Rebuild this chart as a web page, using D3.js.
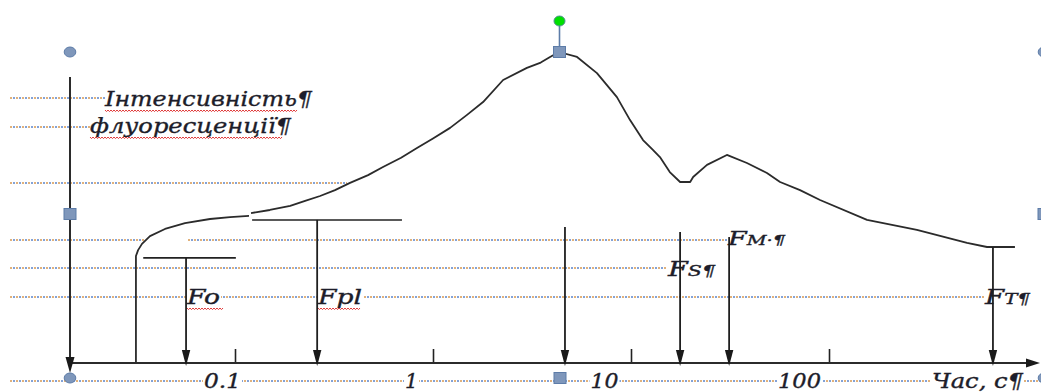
<!DOCTYPE html>
<html>
<head>
<meta charset="utf-8">
<script src="https://cdn.jsdelivr.net/npm/d3@7"></script>
<style>
  html, body { margin: 0; padding: 0; background: #ffffff; }
  svg { display: block; }
  text { font-family: "DejaVu Serif", "Liberation Serif", serif; font-style: italic; fill: #1d1d2a; stroke: #1d1d2a; stroke-width: 0.35; }
</style>
</head>
<body>
<svg id="chart" width="1041" height="392"></svg>
<script>
// ---------------- DATA ----------------
// Fluorescence induction curve (time in seconds, log scale; intensity in relative units, peak = 100)
const timeRise  = [0.0316, 0.0316, 0.0324, 0.0339, 0.0372, 0.0443, 0.0559, 0.0748, 0.0944, 0.1177];
const fluorRise = [0, 34.4, 36.3, 38.3, 40.8, 43.1, 45.0, 46.3, 46.9, 47.3];

const timeMain  = [0.1205, 0.150, 0.190, 0.226, 0.269, 0.320, 0.381, 0.470, 0.559, 0.690, 0.830, 1.00, 1.22, 1.48, 1.79, 2.26, 2.98, 3.50, 3.90, 4.33,
                   5.34, 6.73, 8.49, 9.89, 11.5, 12.9, 14.0, 15.7, 17.7, 19.9, 20.6, 24.2, 30.5, 38.5, 48.6, 56.6, 71.4, 90.1,
                   155.6, 278, 498, 628, 869];
const fluorMain = [48.2, 49.2, 50.5, 52.1, 53.7, 55.6, 57.9, 60.4, 63.0, 66.0, 69.1, 72.2, 75.6, 79.7, 83.9, 91.0, 94.9, 96.6, 98.4, 100,
                   98.4, 93.2, 85.5, 78.1, 71.7, 68.5, 66.2, 61.4, 58.2, 58.2, 59.8, 63.7, 66.9, 64.3, 61.1, 58.2, 55.6, 52.4,
                   46.0, 42.8, 38.6, 37.3, 37.3];

// Level bars (Fo, Fpl)
const levelNames = ["Fo", "Fpl"];
const levelStart = [0.0344, 0.122];
const levelEnd   = [0.101, 0.697];
const levelValue = [33.8, 46.0];

// Down-pointing marker arrows
const markerNames = ["Fo", "Fpl", "P", "FS", "FM", "FT"];
const markerTime  = [0.0566, 0.26, 4.64, 17.7, 31.3, 673];
const markerTop   = [33.8, 46.0, 43.7, 42.1, 40.5, 37.3];

// Axis
const tickValues = [0.1, 1, 10, 100];
const tickLabels = ["0.1", "1", "10", "100"];
const xTitle = "Час, с¶";
const yTitleLines = ["Інтенсивність¶", "флуоресценції¶"];

// ---------------- DRAWING ----------------
const svg = d3.select("#chart");
svg.append("rect").attr("width", 1041).attr("height", 392).attr("fill", "#fff");

const x = d3.scaleLog().domain([0.1, 100]).range([235, 829]);
const y = d3.scaleLinear().domain([0, 100]).range([363, 52]);
const axisY = y(0);

// Word paragraph dotted lines (decoration)
const dotted = [
  {y: 98,  x1: 10,  x2: 105},
  {y: 127, x1: 10,  x2: 90},
  {y: 183, x1: 10,  x2: 347},
  {y: 240, x1: 10,  x2: 145},
  {y: 240, x1: 188, x2: 728},
  {y: 268, x1: 10,  x2: 668},
  {y: 297, x1: 10,  x2: 987},
  {y: 381, x1: 10,  x2: 1041}
];
const gDot = svg.append("g");
dotted.forEach(d => {
  gDot.append("line").attr("x1", d.x1).attr("x2", d.x2).attr("y1", d.y).attr("y2", d.y)
    .attr("stroke", "#d8984f").attr("stroke-width", 1.4).attr("stroke-dasharray", "2,4");
  gDot.append("line").attr("x1", d.x1).attr("x2", d.x2).attr("y1", d.y).attr("y2", d.y)
    .attr("stroke", "#5a84cc").attr("stroke-width", 1.4).attr("stroke-dasharray", "2,4").attr("stroke-dashoffset", 3);
});

// Labels layer (backgrounds then text)
const gBg = svg.append("g");
const gText = svg.append("g");

function label(str, xPos, yBase, width, opts = {}) {
  const t = gText.append("text").attr("x", xPos).attr("y", yBase)
    .attr("font-size", opts.size || 20);
  if (opts.sub) {
    t.append("tspan").text(str[0]);
    t.append("tspan").attr("font-size", (opts.size || 20) * 0.72).text(str.slice(1));
  } else {
    t.text(str);
  }
  t.attr("textLength", width).attr("lengthAdjust", "spacingAndGlyphs");
  if (opts.bg) {
    gBg.append("rect").attr("x", xPos - 1).attr("y", yBase - 16).attr("width", width + 2).attr("height", 20).attr("fill", "#fff");
  }
  if (opts.wavy) {
    const wy = yBase + 4;
    let p = `M${xPos},${wy}`;
    for (let i = xPos; i < xPos + opts.wavyW; i += 3) p += ` L${i + 1.5},${wy + 1.6} L${i + 3},${wy}`;
    gText.append("path").attr("d", p).attr("fill", "none").attr("stroke", opts.wavy).attr("stroke-width", 1);
  }
  return t;
}

// y title
label(yTitleLines[0], 105, 106, 207, {wavy: "#e03a3a", wavyW: 192});
label(yTitleLines[1], 90, 133, 201, {wavy: "#e03a3a", wavyW: 190});

// marker labels
label("Fo", 187, 304, 33, {bg: true, wavy: "#e03a3a", wavyW: 36});
label("Fpl", 318, 304, 44, {bg: true, wavy: "#e03a3a", wavyW: 40});
label("FS¶", 668, 276, 47, {bg: true, sub: true});
label("FM·¶", 728, 245, 57, {bg: true, sub: true, size: 18});
label("FT¶", 985, 304, 45, {bg: true, sub: true});

// x axis title
label(xTitle, 932, 388, 91, {bg: true});

// Curves
const line = d3.line().x(d => x(d[0])).y(d => y(d[1]));
const gCurve = svg.append("g").attr("fill", "none").attr("stroke", "#2b2b2b").attr("stroke-width", 1.8).attr("stroke-linejoin", "round");
gCurve.append("path").attr("d", line(timeRise.map((t, i) => [t, fluorRise[i]])));
gCurve.append("path").attr("d", line(timeMain.map((t, i) => [t, fluorMain[i]])));

// Level bars
levelNames.forEach((n, i) => {
  svg.append("line").attr("x1", x(levelStart[i])).attr("x2", x(levelEnd[i]))
    .attr("y1", y(levelValue[i])).attr("y2", y(levelValue[i]))
    .attr("stroke", "#222").attr("stroke-width", 1.6);
});

// X axis with d3 axis (ticks pointing up)
const xAxis = d3.axisBottom(x).tickValues(tickValues).tickSize(-14)
  .tickFormat((d, i) => tickLabels[i]);
const gAxis = svg.append("g").attr("transform", `translate(0,${axisY})`).call(xAxis);
gAxis.select(".domain").remove();
gAxis.selectAll(".tick line").attr("stroke", "#222").attr("stroke-width", 1.6);
const tickShift = [-13, -22, -27, -30];
const tickWidths = [37, 13, 28, 43];
gAxis.selectAll(".tick text")
  .attr("y", 25).attr("dy", 0)
  .attr("fill", "#1d1d2a")
  .attr("font-size", 20)
  .attr("font-family", "DejaVu Serif, serif")
  .attr("font-style", "italic")
  .attr("x", (d, i) => tickShift[i])
  .attr("textLength", (d, i) => tickWidths[i])
  .attr("lengthAdjust", "spacingAndGlyphs")
  .each(function(d, i) {
    const tr = d3.select(this.parentNode).attr("transform");
    const tx = +tr.match(/translate\(([-\d.]+)/)[1];
    gBg.append("rect").attr("x", tx + tickShift[i] - tickWidths[i] / 2 - 1).attr("y", 372)
      .attr("width", tickWidths[i] + 2).attr("height", 19).attr("fill", "#fff");
  });

// Axis lines
svg.append("line").attr("x1", 70).attr("x2", 1030).attr("y1", axisY).attr("y2", axisY)
  .attr("stroke", "#2b2b2b").attr("stroke-width", 2);
svg.append("path").attr("d", `M1040,${axisY} L1026,${axisY - 4.5} L1026,${axisY + 4.5} Z`).attr("fill", "#1a1a1a");

svg.append("line").attr("x1", 70).attr("x2", 70).attr("y1", 77).attr("y2", 360)
  .attr("stroke", "#2b2b2b").attr("stroke-width", 2);
svg.append("path").attr("d", `M70,373 L65.5,357 L74.5,357 Z`).attr("fill", "#1a1a1a");

// Marker arrows
markerNames.forEach((n, i) => {
  const mx = x(markerTime[i]);
  const tip = axisY + 3;
  svg.append("line").attr("x1", mx).attr("x2", mx).attr("y1", y(markerTop[i])).attr("y2", tip - 12)
    .attr("stroke", "#1f1f1f").attr("stroke-width", 1.8);
  svg.append("path").attr("d", `M${mx},${tip} L${mx - 4.2},${tip - 16} L${mx + 4.2},${tip - 16} Z`).attr("fill", "#1a1a1a");
});

// Selection handles (Word drawing canvas decoration)
const hFill = "#7f97bb", hStroke = "#5d7ca8";
const gH = svg.append("g");
[[70, 52], [70, 378], [1044, 52], [1044, 378]].forEach(p => {
  gH.append("ellipse").attr("cx", p[0]).attr("cy", p[1]).attr("rx", 5.8).attr("ry", 5)
    .attr("fill", hFill).attr("stroke", hStroke).attr("stroke-width", 1);
});
[[70, 214], [1044, 214], [560, 378], [559.5, 52]].forEach(p => {
  gH.append("rect").attr("x", p[0] - 6).attr("y", p[1] - 5.5).attr("width", 12).attr("height", 11)
    .attr("fill", hFill).attr("stroke", hStroke).attr("stroke-width", 1);
});
gH.append("line").attr("x1", 559.5).attr("x2", 559.5).attr("y1", 46).attr("y2", 26)
  .attr("stroke", hStroke).attr("stroke-width", 1.6);
gH.append("ellipse").attr("cx", 559.5).attr("cy", 21).attr("rx", 5.5).attr("ry", 5)
  .attr("fill", "#00e000").attr("stroke", "#4f8f8f").attr("stroke-width", 1);
</script>
</body>
</html>
